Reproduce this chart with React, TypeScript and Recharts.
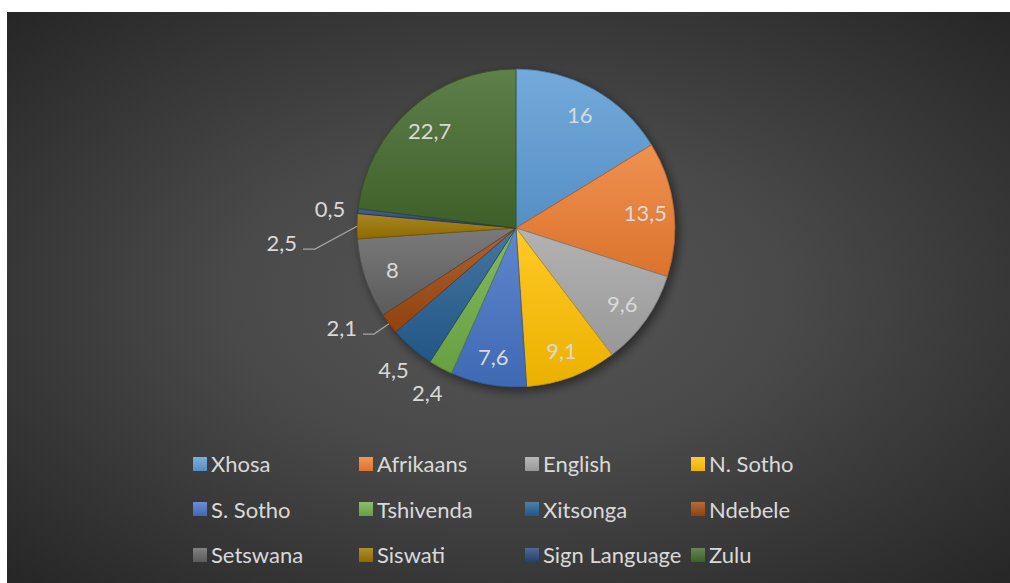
import type { ReactElement } from "react";
import { PieChart, Pie, Cell, Legend } from "recharts";

const LANGUAGES = [
  "Xhosa",
  "Afrikaans",
  "English",
  "N. Sotho",
  "S. Sotho",
  "Tshivenda",
  "Xitsonga",
  "Ndebele",
  "Setswana",
  "Siswati",
  "Sign Language",
  "Zulu",
];
const SHARES = [16, 13.5, 9.6, 9.1, 7.6, 2.4, 4.5, 2.1, 8, 2.5, 0.5, 22.7];
const COLORS = [
  "#5B9BD5",
  "#ED7D31",
  "#A5A5A5",
  "#FFC000",
  "#4472C4",
  "#70AD47",
  "#255E91",
  "#9E480E",
  "#636363",
  "#997300",
  "#264478",
  "#43682B",
];

const data = LANGUAGES.map((name, i) => ({ name, value: SHARES[i] }));

const FONT = "Lato, 'Open Sans', sans-serif";
const TEXT = "#d9d9d9";
const RAD = Math.PI / 180;

// labels Excel pushed aside with a leader line (offsets from pie centre)
const LEADERS: Record<string, { elbow: [number, number]; end: [number, number] }> = {
  Siswati: { elbow: [-201, 21], end: [-213, 21] },
  Ndebele: { elbow: [-142, 106], end: [-153, 106] },
};

function shade(hex: string, amt: number): string {
  const n = parseInt(hex.slice(1), 16);
  const mix = (c: number) =>
    Math.round(amt >= 0 ? c + (255 - c) * amt : c * (1 + amt));
  const r = mix((n >> 16) & 255);
  const g = mix((n >> 8) & 255);
  const b = mix(n & 255);
  return `rgb(${r},${g},${b})`;
}

const fmt = (v: number) => String(v).replace(".", ",");

function renderLabel(props: any): ReactElement {
  const { cx, cy, midAngle, outerRadius, value, name } = props;
  const cos = Math.cos(-midAngle * RAD);
  const sin = Math.sin(-midAngle * RAD);
  const leader = LEADERS[name];
  if (leader) {
    const sx = cx + outerRadius * cos;
    const sy = cy + outerRadius * sin;
    const ex = cx + leader.end[0];
    const ey = cy + leader.end[1];
    return (
      <g>
        <polyline
          points={`${sx},${sy} ${cx + leader.elbow[0]},${cy + leader.elbow[1]} ${ex},${ey}`}
          fill="none"
          stroke="#a6a6a6"
          strokeWidth={1.25}
        />
        <text
          x={ex - 6}
          y={ey - 7}
          textAnchor="end"
          dominantBaseline="central"
          fill={TEXT}
          fontFamily={FONT}
          fontSize={22}
        >
          {fmt(value)}
        </text>
      </g>
    );
  }
  const r = value >= 7 ? outerRadius * 0.82 : outerRadius + 28;
  return (
    <text
      x={cx + r * cos}
      y={cy + r * sin}
      textAnchor="middle"
      dominantBaseline="central"
      fill={TEXT}
      fontFamily={FONT}
      fontSize={22}
    >
      {fmt(value)}
    </text>
  );
}

function LegendGrid(): ReactElement {
  return (
    <div
      style={{
        display: "grid",
        gridTemplateColumns: "repeat(4, 166px)",
        gridAutoRows: "45.5px",
        fontFamily: FONT,
        fontSize: 22,
        color: TEXT,
      }}
    >
      {LANGUAGES.map((name, i) => (
        <div key={name} style={{ display: "flex", alignItems: "center", whiteSpace: "nowrap" }}>
          <span
            style={{
              width: 14,
              height: 14,
              marginRight: 4,
              flex: "none",
              background: `linear-gradient(${shade(COLORS[i], 0.2)}, ${shade(COLORS[i], -0.08)})`,
            }}
          />
          {name}
        </div>
      ))}
    </div>
  );
}

export default function App(): ReactElement {
  return (
    <div
      style={{
        position: "absolute",
        left: 7,
        top: 12,
        width: 1003,
        height: 571,
        background:
          "radial-gradient(ellipse farthest-corner at 50% 50%, #565656 0%, #494949 40%, #262626 100%)",
      }}
    >
      <PieChart width={1003} height={571} margin={{ top: 0, right: 0, bottom: 0, left: 0 }}>
        <defs>
          <filter id="pieShadow" x="-20%" y="-20%" width="140%" height="140%">
            <feGaussianBlur stdDeviation="5" />
          </filter>
          {COLORS.map((c, i) => (
            <linearGradient key={c} id={`slice${i}`} x1="0" y1="0" x2="0" y2="1">
              <stop offset="0%" stopColor={shade(c, 0.15)} />
              <stop offset="100%" stopColor={shade(c, -0.08)} />
            </linearGradient>
          ))}
        </defs>
        <Pie
          data={data}
          dataKey="value"
          nameKey="name"
          cx={512}
          cy={220}
          outerRadius={160}
          startAngle={90}
          endAngle={-270}
          fill="#000"
          fillOpacity={0.45}
          stroke="none"
          style={{ filter: "url(#pieShadow)" }}
          legendType="none"
          isAnimationActive={false}
        />
        <Pie
          data={data}
          dataKey="value"
          nameKey="name"
          cx={509}
          cy={216}
          outerRadius={159}
          startAngle={90}
          endAngle={-270}
          label={renderLabel}
          labelLine={false}
          isAnimationActive={false}
        >
          {data.map((d, i) => (
            <Cell
              key={d.name}
              fill={`url(#slice${i})`}
              stroke={shade(COLORS[i], -0.25)}
              strokeWidth={0.75}
            />
          ))}
        </Pie>
        <Legend
          content={() => <LegendGrid />}
          wrapperStyle={{ left: 186, top: 429, width: 680, bottom: "auto" }}
        />
      </PieChart>
    </div>
  );
}
